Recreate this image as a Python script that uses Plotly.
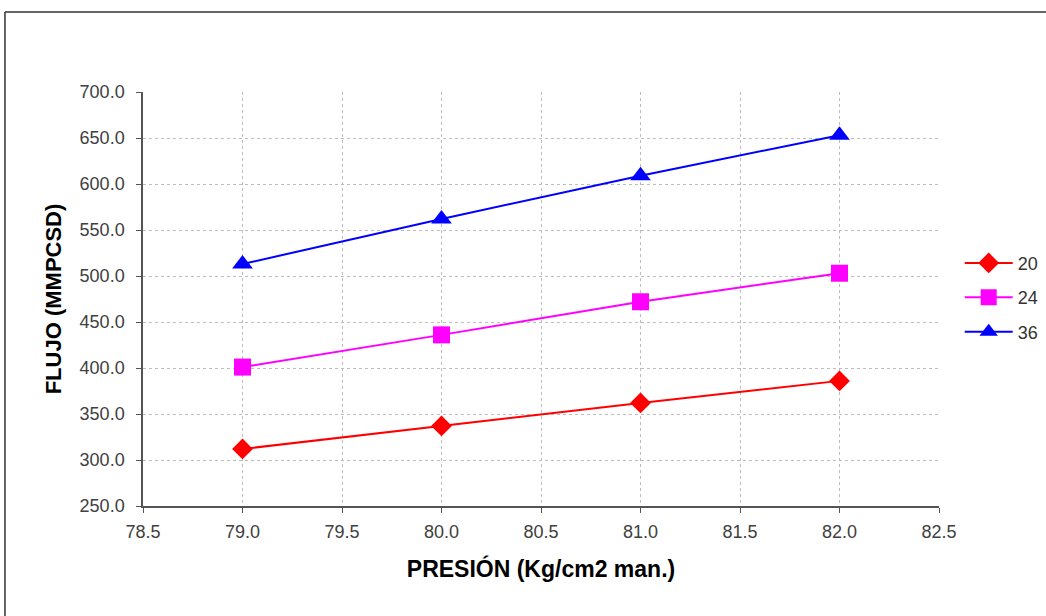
import plotly.graph_objects as go

presion = [79.0, 80.0, 81.0, 82.0]
flujo_20 = [312, 337, 362, 386]
flujo_24 = [401, 436, 472, 503]
flujo_36 = [513, 562, 609, 653]
series_names = ["20", "24", "36"]

fig = go.Figure()
styles = [
    (flujo_20, "#FF0000", "diamond", 16),
    (flujo_24, "#FF00FF", "square", 17),
    (flujo_36, "#0000FF", "triangle-up", 18),
]
for name, (vals, col, sym, sz) in zip(series_names, styles):
    fig.add_trace(go.Scatter(
        x=presion, y=vals, name=name, mode="lines+markers",
        line=dict(color=col, width=2),
        marker=dict(symbol=sym, size=sz, color=col),
        legendgroup=name,
    ))

FONT = "Liberation Sans, Arial"
axis_common = dict(
    showline=True, linecolor="#555555", linewidth=1.5,
    ticks="outside", ticklen=5, tickcolor="#555555",
    showgrid=True, gridcolor="#BDBDBD", griddash="3px,3px", gridwidth=1,
    zeroline=False, tickformat=".1f",
    tickfont=dict(family=FONT, size=18, color="#404040"),
)

fig.update_layout(
    width=1046, height=616,
    margin=dict(l=143, r=107, t=92, b=110, autoexpand=False),
    paper_bgcolor="white", plot_bgcolor="white",
    xaxis=dict(range=[78.5, 82.5], dtick=0.5, ticklabelstandoff=4, **axis_common,
               title=dict(text="<b>PRESIÓN (Kg/cm2 man.)</b>", standoff=20,
                          font=dict(family=FONT, size=23, color="black"))),
    yaxis=dict(range=[250, 700], dtick=50, ticklabelstandoff=8, **axis_common,
               title=dict(text="<b>FLUJO (MMPCSD)</b>", standoff=12,
                          font=dict(family=FONT, size=22, color="black"))),
    legend=dict(x=1.026, y=0.503, xanchor="left", yanchor="middle",
                font=dict(family=FONT, size=18, color="#333333"),
                itemwidth=48,
                tracegroupgap=8, bgcolor="rgba(0,0,0,0)"),
    shapes=[
        dict(type="line", xref="paper", yref="paper", x0=-0.1734, x1=1.15, y0=1.193, y1=1.193,
             line=dict(color="#333333", width=1.5)),
        dict(type="line", xref="paper", yref="paper", x0=-0.1734, x1=-0.1734, y0=1.193, y1=-0.28,
             line=dict(color="#333333", width=1.5)),
    ],
)

fig.write_html("out.html", config={"displayModeBar": False},
               post_script="document.body.style.margin='0';")
